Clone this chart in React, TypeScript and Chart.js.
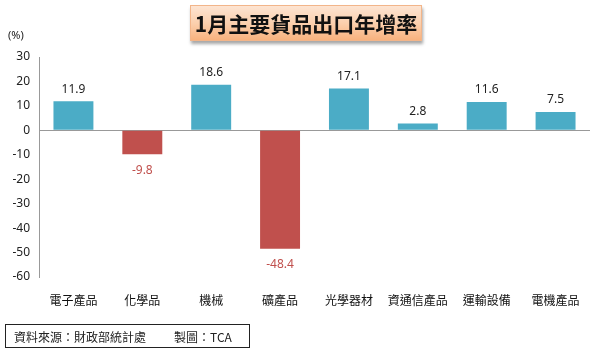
import React, { useEffect, useRef } from "react";
import { Chart, registerables } from "chart.js";

Chart.register(...registerables);

const categories = ["電子產品", "化學品", "機械", "礦產品", "光學器材", "資通信產品", "運輸設備", "電機產品"];
const growth = [11.9, -9.8, 18.6, -48.4, 17.1, 2.8, 11.6, 7.5];
const titleText = "1月主要貨品出口年增率";
const unitText = "(%)";
const sourceText = "資料來源：財政部統計處";
const makerText = "製圖：TCA";

const POS = "#4BACC6";
const NEG = "#C0504D";
const FONT = "'Noto Sans', 'Noto Sans CJK TC', sans-serif";

const labelPlugin = {
  id: "valueLabels",
  afterDatasetsDraw(chart: any) {
    const ctx = chart.ctx;
    const meta = chart.getDatasetMeta(0);
    ctx.save();
    ctx.font = `12px ${FONT}`;
    ctx.textAlign = "center";
    ctx.textBaseline = "middle";
    meta.data.forEach((bar: any, i: number) => {
      const v = growth[i];
      if (v >= 0) {
        ctx.fillStyle = "#222";
        ctx.fillText(v.toFixed(1), bar.x, bar.y - 12);
      } else {
        ctx.fillStyle = NEG;
        ctx.fillText(v.toFixed(1), bar.x, bar.y + 16);
      }
    });
    ctx.restore();
  },
};

export default function App() {
  const ref = useRef<HTMLCanvasElement>(null);
  useEffect(() => {
    if (!ref.current) return;
    const chart = new Chart(ref.current, {
      type: "bar",
      data: {
        labels: categories,
        datasets: [
          {
            data: growth,
            backgroundColor: growth.map((v) => (v >= 0 ? POS : NEG)),
            barPercentage: 0.58,
            categoryPercentage: 1,
          },
        ],
      },
      options: {
        animation: false,
        responsive: false,
        maintainAspectRatio: false,
        layout: { padding: { top: 57, left: 0, right: 10, bottom: 0 } },
        plugins: { legend: { display: false }, tooltip: { enabled: false } },
        scales: {
          x: {
            grid: { display: false },
            border: { display: false },
            ticks: { color: "#111", font: { size: 12, family: FONT }, padding: 9, maxRotation: 0, autoSkip: false },
            afterFit: (s: any) => {
              s.height = 76;
            },
          },
          y: {
            min: -60,
            max: 30,
            border: { display: true, color: "#999" },
            grid: {
              drawTicks: false,
              color: (c: any) => (c.tick && c.tick.value === 0 ? "#999" : "rgba(0,0,0,0)"),
            },
            ticks: { stepSize: 10, color: "#222", font: { size: 12, family: FONT }, padding: 9 },
            afterFit: (s: any) => {
              s.width = 39;
            },
          },
        },
      },
      plugins: [labelPlugin],
    });
    return () => chart.destroy();
  }, []);

  return (
    <div style={{ position: "fixed", left: 0, top: 0, width: 600, height: 353, background: "#fff", fontFamily: FONT }}>
      <canvas ref={ref} width={600} height={353} style={{ position: "absolute", left: 0, top: 0 }} />
      <div
        style={{
          position: "absolute",
          left: 190,
          top: 5,
          width: 232,
          height: 36,
          boxSizing: "border-box",
          border: "1px solid #f2b58a",
          background: "linear-gradient(#fde4d2, #fbd0ae 50%, #f8b27e)",
          boxShadow: "1px 3px 3px rgba(0,0,0,0.35)",
          display: "flex",
          alignItems: "center",
          justifyContent: "center",
          fontSize: 21,
          fontWeight: "bold",
          color: "#111",
          fontFamily: "'Noto Sans CJK TC', sans-serif",
          letterSpacing: 0,
        }}
      >
        {titleText}
      </div>
      <div style={{ position: "absolute", left: 8, top: 27, fontSize: 11, color: "#222" }}>{unitText}</div>
      <div
        style={{
          position: "absolute",
          left: 5,
          top: 324,
          width: 245,
          height: 24,
          boxSizing: "border-box",
          border: "1px solid #222",
          display: "flex",
          alignItems: "center",
          paddingLeft: 8,
          fontSize: 12,
          color: "#222",
          fontFamily: "'Noto Sans CJK TC', sans-serif",
          whiteSpace: "pre",
        }}
      >
        {sourceText}
        <span style={{ marginLeft: 28 }}>{makerText}</span>
      </div>
    </div>
  );
}
